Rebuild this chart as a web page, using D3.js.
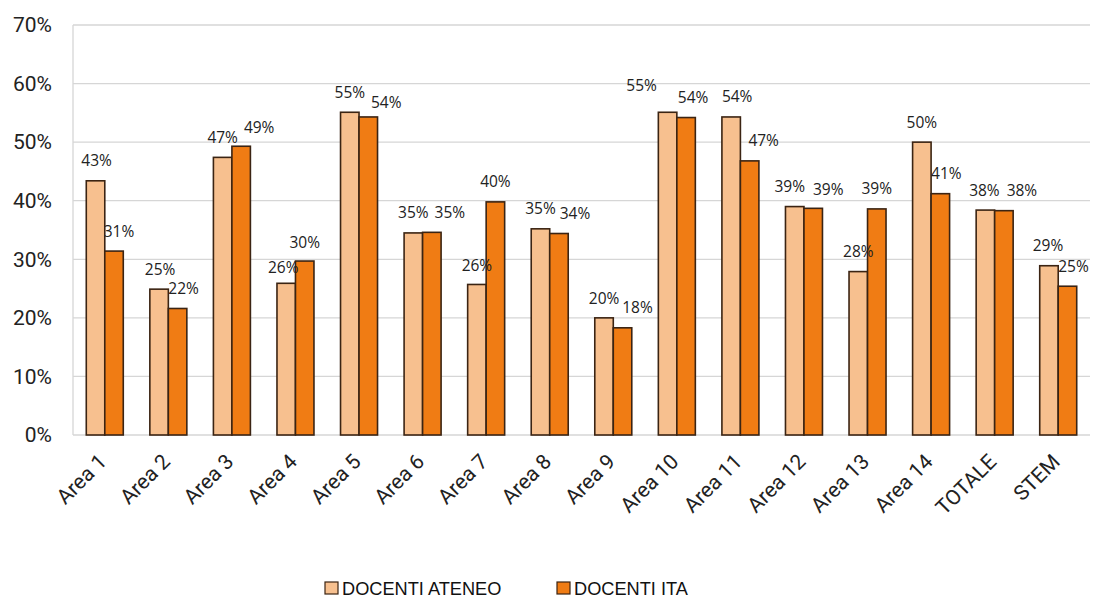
<!DOCTYPE html>
<html>
<head>
<meta charset="utf-8">
<script src="https://cdn.jsdelivr.net/npm/d3@7"></script>
<style>
  html, body { margin: 0; padding: 0; background: #fff; }
  svg { display: block; }
</style>
</head>
<body>
<svg id="chart" width="1094" height="599"></svg>
<script>
// Share of docenti per area: university staff vs national figure (percent)
const categories = ["Area 1", "Area 2", "Area 3", "Area 4", "Area 5", "Area 6", "Area 7", "Area 8",
                    "Area 9", "Area 10", "Area 11", "Area 12", "Area 13", "Area 14", "TOTALE", "STEM"];
const seriesNames = ["DOCENTI ATENEO", "DOCENTI ITA"];
const ateneo = [43.4, 24.9, 47.4, 25.9, 55.1, 34.5, 25.7, 35.2, 20.0, 55.1, 54.3, 39.0, 27.9, 50.0, 38.4, 28.9];
const ita    = [31.4, 21.6, 49.3, 29.7, 54.3, 34.6, 39.8, 34.4, 18.3, 54.2, 46.8, 38.7, 38.6, 41.2, 38.3, 25.4];
const yTicks = [0, 10, 20, 30, 40, 50, 60, 70];

// Hand-placed label offsets (px) relative to the default spot above each bar
const labelShiftAteneo = [[1,0],[1,0],[0,0],[-3,4],[0,0],[0,0],[0,1],[0,0],[0,1],[-26,-7],[6,0],[-5,0],[0,0],[0,0],[-1,0],[-1,0]];
const labelShiftIta    = [[5,0],[6,0],[18,1],[0,2],[18,6],[18,0],[0,0],[16,0],[15,0],[7,0],[14,0],[15,1],[0,0],[6,0],[18,0],[6,0]];

const colors = ["#f7c08f", "#f07c14"];
const margin = { left: 73, right: 1090, top: 25, bottom: 435 };

const svg = d3.select("#chart");

const x0 = d3.scaleBand()
  .domain(categories)
  .range([margin.left, margin.right])
  .paddingInner(0.418)
  .paddingOuter(0.209);

const x1 = d3.scaleBand()
  .domain(seriesNames)
  .range([0, x0.bandwidth()]);

const y = d3.scaleLinear()
  .domain([0, 70])
  .range([margin.bottom, margin.top]);

// Horizontal gridlines
svg.append("g")
  .selectAll("line")
  .data(yTicks)
  .join("line")
  .attr("x1", margin.left)
  .attr("x2", margin.right)
  .attr("y1", d => y(d))
  .attr("y2", d => y(d))
  .attr("stroke", "#d6d6d6")
  .attr("stroke-width", 1.3);

// Left axis line
svg.append("line")
  .attr("x1", margin.left).attr("x2", margin.left)
  .attr("y1", y(70)).attr("y2", y(0))
  .attr("stroke", "#d6d6d6")
  .attr("stroke-width", 1.3);

// Y axis labels
const yAxis = d3.axisLeft(y)
  .tickValues(yTicks)
  .tickFormat(d => d + "%")
  .tickSize(0)
  .tickPadding(21);
svg.append("g")
  .attr("transform", `translate(${margin.left},0)`)
  .call(yAxis)
  .call(g => g.select(".domain").remove())
  .selectAll("text")
  .attr("font-family", "Roboto, 'Liberation Sans', sans-serif")
  .attr("font-size", 21)
  .attr("fill", "#222");

// X axis labels, rotated
const xAxis = d3.axisBottom(x0).tickSize(0).tickPadding(0);
svg.append("g")
  .attr("transform", `translate(0,${margin.bottom})`)
  .call(xAxis)
  .call(g => g.select(".domain").remove())
  .selectAll("text")
  .attr("font-family", "Roboto, 'Liberation Sans', sans-serif")
  .attr("font-size", 21)
  .attr("fill", "#222")
  .attr("text-anchor", "end")
  .attr("dy", 0)
  .attr("transform", "translate(3,28) rotate(-45)");

// Bars
const rows = categories.map((c, i) => ({
  cat: c,
  vals: [
    { name: seriesNames[0], v: ateneo[i], k: 0, shift: labelShiftAteneo[i] },
    { name: seriesNames[1], v: ita[i], k: 1, shift: labelShiftIta[i] }
  ]
}));

const groups = svg.append("g")
  .selectAll("g")
  .data(rows)
  .join("g")
  .attr("transform", d => `translate(${x0(d.cat)},0)`);

groups.selectAll("rect")
  .data(d => d.vals)
  .join("rect")
  .attr("x", d => x1(d.name))
  .attr("width", x1.bandwidth())
  .attr("y", d => y(d.v))
  .attr("height", d => y(0) - y(d.v))
  .attr("fill", d => colors[d.k])
  .attr("stroke", "#3b2413")
  .attr("stroke-width", 1.6);

// Value labels
groups.selectAll("text.val")
  .data(d => d.vals)
  .join("text")
  .attr("class", "val")
  .attr("x", d => x1(d.name) + x1.bandwidth() / 2 + d.shift[0])
  .attr("y", d => y(d.v) - 20 + d.shift[1])
  .attr("dy", "0.35em")
  .attr("text-anchor", "middle")
  .attr("font-family", "'Open Sans', sans-serif")
  .attr("font-size", 15.5)
  .attr("fill", "#222")
  .text(d => Math.round(d.v) + "%");

// Legend
const legendX = [325, 557];
const legend = svg.append("g")
  .selectAll("g")
  .data(seriesNames)
  .join("g")
  .attr("transform", (d, i) => `translate(${legendX[i]},582)`);

legend.append("rect")
  .attr("width", 13)
  .attr("height", 12)
  .attr("fill", (d, i) => colors[i])
  .attr("stroke", "#3b2413")
  .attr("stroke-width", 1.2);

legend.append("text")
  .attr("x", 17)
  .attr("y", 6)
  .attr("dy", "0.36em")
  .attr("font-family", "'Liberation Sans', Arial, sans-serif")
  .attr("font-size", 18.2)
  .attr("fill", "#111")
  .text(d => d);
</script>
</body>
</html>
